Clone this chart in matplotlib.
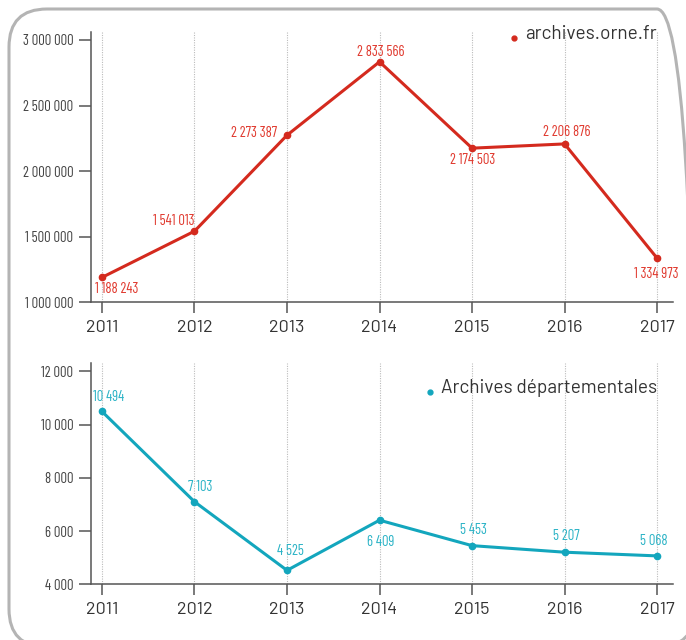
import matplotlib
matplotlib.use("Agg")
import matplotlib.pyplot as plt
from matplotlib.patches import FancyBboxPatch
from matplotlib.transforms import IdentityTransform

years = [2011, 2012, 2013, 2014, 2015, 2016, 2017]
site_visits = [1188243, 1541013, 2273387, 2833566, 2174503, 2206876, 1334973]
ad_visits = [10494, 7103, 4525, 6409, 5453, 5207, 5068]

top_ticks = [1000000, 1500000, 2000000, 2500000, 3000000]
bottom_ticks = [4000, 6000, 8000, 10000, 12000]

# label offsets in pixels (dx, dy) relative to each point
top_offsets = [(15, -12), (-21, 10), (-10, 2), (1, 10), (1, -12), (2, 12), (-1, -16)]
top_ha = ["center", "center", "right", "center", "center", "center", "center"]
bottom_offsets = [(7, 14), (6, 15), (3, 19), (1, -22), (1, 16), (2, 16), (-3, 15)]

RED = "#d42a1e"
RED_TXT = "#e0392e"
TEAL = "#13a6bd"
TEAL_TXT = "#2bb3c6"
AXC = "#555555"

num_font = ["Barlow Condensed", "DejaVu Sans"]
year_font = ["Barlow", "DejaVu Sans"]


def fmt(v):
    return "{:,}".format(v).replace(",", " ")


fig = plt.figure(figsize=(6.86, 6.40), dpi=100)

# rounded frame, in pixel coordinates
frame = FancyBboxPatch((9, -7), 686, 638, boxstyle="round,pad=0,rounding_size=38",
                       transform=IdentityTransform(), fill=False,
                       edgecolor="#b4b4b4", linewidth=2.2)
fig.add_artist(frame)

ax1 = fig.add_axes([0.1322, 0.528, 0.849, 0.422])
ax2 = fig.add_axes([0.1322, 0.087, 0.849, 0.346])


def style(ax, ticks, ylim):
    ax.set_xlim(2010.878, 2017.173)
    ax.set_ylim(*ylim)
    for s in ["top", "right"]:
        ax.spines[s].set_visible(False)
    for s in ["left", "bottom"]:
        ax.spines[s].set_color(AXC)
        ax.spines[s].set_linewidth(1.1)
    ax.set_xticks(years)
    ax.set_yticks(ticks)
    ax.set_yticklabels([fmt(t) for t in ticks], family=num_font, fontsize=10.5, color="#444444")
    ax.set_xticklabels([str(y) for y in years], family=year_font, fontsize=13, color="#333333")
    ax.tick_params(axis="y", length=9, width=1.1, color=AXC, pad=3.5)
    ax.tick_params(axis="x", length=8, width=1.1, color=AXC, pad=5)
    ax.grid(axis="x", color="#bbbbbb", linestyle=(0, (1, 1.2)), linewidth=0.8)
    ax.set_axisbelow(True)


style(ax1, top_ticks, (1000000, 3061000))
style(ax2, bottom_ticks, (4000, 12320))

ax1.plot(years, site_visits, color=RED, linewidth=2.2, marker="o", markersize=4.5, zorder=3)
ax2.plot(years, ad_visits, color=TEAL, linewidth=2.2, marker="o", markersize=4.5, zorder=3)

for x, v, (dx, dy), ha in zip(years, site_visits, top_offsets, top_ha):
    ax1.annotate(fmt(v), (x, v), xytext=(dx * 0.72, dy * 0.72), textcoords="offset points",
                 ha=ha, va="center", family=num_font, fontsize=10.5, color=RED_TXT)

for x, v, (dx, dy) in zip(years, ad_visits, bottom_offsets):
    ax2.annotate(fmt(v), (x, v), xytext=(dx * 0.72, dy * 0.72), textcoords="offset points",
                 ha="center", va="center", family=num_font, fontsize=10.5, color=TEAL_TXT)

# legends: text right-aligned on the 2017 line, dot just left of it
leg1 = fig.text(657, 640 - 34, "archives.orne.fr", transform=IdentityTransform(), ha="right",
                va="center", family=year_font, fontsize=13.7, color="#333333")
leg2 = fig.text(657, 640 - 388, "Archives départementales", transform=IdentityTransform(),
                ha="right", va="center", family=year_font, fontsize=13.7, color="#333333")
fig.canvas.draw()
for t, col, y in [(leg1, RED, 38), (leg2, TEAL, 392)]:
    bb = t.get_window_extent()
    fig.add_artist(plt.Line2D([bb.x0 - 11], [640 - y], transform=IdentityTransform(),
                              marker="o", markersize=3.5, color=col, linestyle="none"))

fig.savefig("out.png", dpi=100)
